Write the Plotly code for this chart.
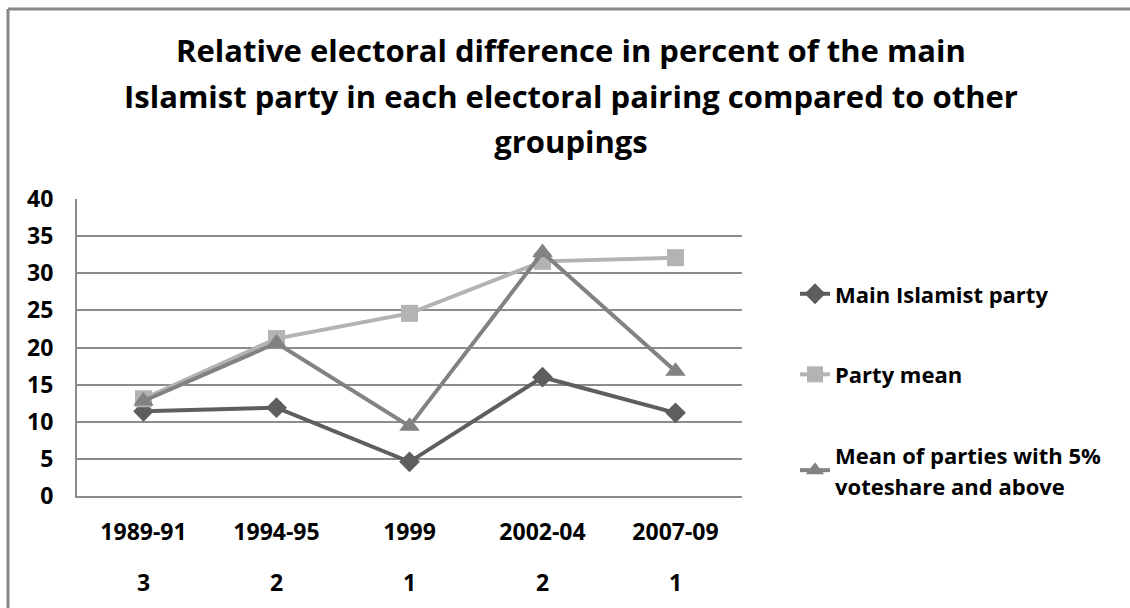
import plotly.graph_objects as go

# Electoral pairings and their number of elections
periods = ["1989-91", "1994-95", "1999", "2002-04", "2007-09"]
pair_counts = ["3", "2", "1", "2", "1"]

# Relative electoral difference (%) per series
main_islamist = [11.4, 11.9, 4.6, 16.0, 11.2]
party_mean = [13.1, 21.2, 24.6, 31.6, 32.1]
mean_5pct = [12.8, 20.6, 9.4, 32.8, 16.8]

series_names = ["Main Islamist party", "Party mean",
                "Mean of parties with 5%<br>voteshare and above"]

FONT = "Open Sans"
TXT = 23
LEG_TXT = 22
x_pos = list(range(len(periods)))

# Plot-area geometry in pixels, used to place the frame in paper units
PLOT_L, PLOT_R, PLOT_T, PLOT_B = 77, 742, 199, 496
W, H = 1130, 608


def px_x(px):
    return (px - PLOT_L) / (PLOT_R - PLOT_L)


def px_y(py):
    return (PLOT_B - py) / (PLOT_B - PLOT_T)


def legend_label(name):
    return f'<span style="font-size:{LEG_TXT}px">{name}</span>'


fig = go.Figure()

fig.add_trace(go.Scatter(
    x=x_pos, y=main_islamist, name=legend_label(series_names[0]),
    mode="lines+markers",
    line=dict(color="#5e5e5e", width=4),
    marker=dict(symbol="diamond", size=16, color="#5e5e5e"),
    legendgroup="a",
))
fig.add_trace(go.Scatter(
    x=x_pos, y=party_mean, name=legend_label(series_names[1]),
    mode="lines+markers",
    line=dict(color="#b3b3b3", width=4),
    marker=dict(symbol="square", size=17, color="#b3b3b3"),
    legendgroup="b",
))
fig.add_trace(go.Scatter(
    x=x_pos, y=mean_5pct, name=legend_label(series_names[2]),
    mode="lines+markers",
    line=dict(color="#828282", width=4),
    marker=dict(symbol="triangle-up", size=18, color="#828282"),
    legendgroup="c",
))

# Second row of category labels: number of elections per pairing
for xi, c in zip(x_pos, pair_counts):
    fig.add_annotation(
        x=xi, y=px_y(582), xref="x", yref="paper", text=f"<b>{c}</b>",
        showarrow=False, yanchor="middle",
        font=dict(family=FONT, size=TXT, color="#000000"),
    )

# Outer chart frame: top and left edges
fig.add_shape(type="line", xref="paper", yref="paper",
              x0=px_x(8), x1=px_x(W + 5), y0=px_y(9), y1=px_y(9),
              line=dict(color="#888888", width=3))
fig.add_shape(type="line", xref="paper", yref="paper",
              x0=px_x(8), x1=px_x(8), y0=px_y(9), y1=px_y(H + 5),
              line=dict(color="#888888", width=3))

title_text = ("Relative electoral difference in percent of the main<br>"
              "Islamist party in each electoral pairing compared to other<br>"
              "groupings")

fig.update_layout(
    width=W, height=H,
    margin=dict(l=PLOT_L, r=W - PLOT_R, t=PLOT_T, b=H - PLOT_B),
    paper_bgcolor="white", plot_bgcolor="white",
    font=dict(family=FONT, color="#000000"),
    title=dict(
        text=f'<span style="font-size:31px"><b>{title_text}</b></span>',
        x=571 / W, xref="container", xanchor="center",
        y=1 - 62 / H, yref="container", yanchor="top",
        font=dict(family=FONT, size=35, color="#000000"),
    ),
    xaxis=dict(
        range=[-0.5, 4.5], tickvals=x_pos, ticktext=periods,
        showgrid=False, zeroline=False,
        showline=True, linecolor="#8c8c8c", linewidth=2,
        ticks="", ticklabelstandoff=14,
        tickfont=dict(family=FONT, size=TXT, color="#000000", weight="bold"),
        fixedrange=True,
    ),
    yaxis=dict(
        range=[0, 40], dtick=5, tick0=0,
        showgrid=True, gridcolor="#8c8c8c", gridwidth=2,
        zeroline=False, showline=True, linecolor="#8c8c8c", linewidth=2,
        ticks="", ticklabelstandoff=17,
        tickfont=dict(family=FONT, size=TXT, color="#000000", weight="bold"),
        fixedrange=True,
    ),
    legend=dict(
        x=px_x(795), xref="paper", xanchor="left",
        y=px_y(272), yanchor="top",
        font=dict(family=FONT, size=23.5, color="#000000", weight="bold"),
        traceorder="grouped", tracegroupgap=47,
        itemwidth=30, bgcolor="rgba(0,0,0,0)",
    ),
    showlegend=True,
)

fig.write_html("out.html")
